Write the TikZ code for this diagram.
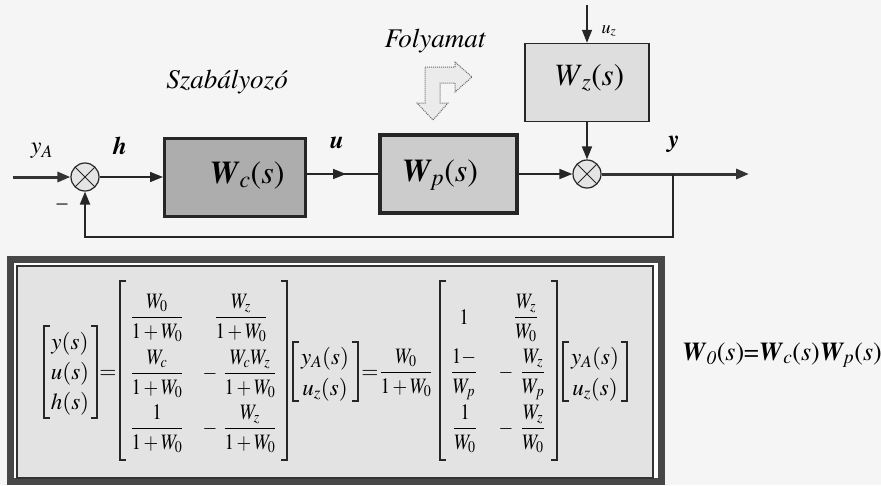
\documentclass[tikz,border=0pt]{standalone}
\usepackage{amsmath}
\usepackage{graphicx}
\usepackage[T1]{fontenc}
\usepackage{mathptmx}
\usetikzlibrary{arrows.meta,decorations.markings}
\newcommand{\fs}[1]{\fontsize{#1}{#1}\selectfont}
\newcommand{\bW}{\textbf{\textit{W}}}
\newcommand{\mq}[1]{\scalebox{0.86}[1]{$\displaystyle #1$}}
\begin{document}
\begin{tikzpicture}[x=1pt,y=-1pt,
  >={Triangle[length=13pt,width=10pt]},
  ln/.style={line width=1.5pt, draw=black!85},
  thk/.style={line width=3pt, draw=black!80},
  sumn/.style={circle, draw=black!85, line width=1.2pt, fill=black!10, minimum size=28pt, inner sep=0pt,
    path picture={\draw[line width=1pt,black!85] (path picture bounding box.north west)--(path picture bounding box.south east)
      (path picture bounding box.north east)--(path picture bounding box.south west);}},
  brk/.style={line width=1.3pt, draw=black!85},
  eq/.style={font=\fs{22}, inner sep=0pt, anchor=base},
  eqv/.style={font=\fs{23}, inner sep=0pt, anchor=base},
  lbl/.style={inner sep=0pt},
  midarrow/.style={postaction={decorate},decoration={markings,mark=at position 0.55 with {\arrow{Triangle[length=13pt,width=10pt]}}}},
]
\useasboundingbox (0,0) rectangle (881,485);
\fill[black!4] (0,0) rectangle (881,485);

% ---- block diagram ----
\node[sumn] (s1) at (85,177) {};
\node[sumn] (s2) at (587,174) {};
\node[draw=black!85, line width=3pt, fill=black!32, minimum width=141pt, minimum height=78pt, inner sep=0pt] (Wc) at (235,177) {};
\node[draw=black!85, line width=4pt, fill=black!20, minimum width=137pt, minimum height=78pt, inner sep=0pt] (Wp) at (448.5,174) {};
\node[draw=black!85, line width=1.5pt, fill=black!13, minimum width=124pt, minimum height=78pt, inner sep=0pt] (Wz) at (587,82.5) {};

\node[lbl, font=\fs{32}] (WcT) at (247,175) {\bW\textsubscript{\textit{c}}(\textit{s})};
\node[lbl, font=\fs{32}] (WpT) at (440,175) {\bW\textsubscript{\textit{p}}(\textit{s})};
\node[lbl, font=\fs{31}] (WzT) at (589,78) {\textit{W}\textsubscript{\textit{z}}(\textit{s})};

\coordinate (in) at (13,177);
\coordinate (uzin) at (587,5);
\coordinate (yout) at (749,174);
\coordinate (tap) at (673,174);
\coordinate (fbc) at (673,237);

\draw[thk,->] (in) -- (s1);
\draw[ln,->] (s1) -- (Wc);
\draw[ln,midarrow] (Wc.east |- Wp.west) -- (Wp.west);
\draw[ln,->] (Wp) -- (s2);
\draw[ln,->] (uzin) -- (Wz);
\draw[ln,->] (Wz) -- (s2);
\draw[thk,->] (s2) -- (yout);
\draw[line width=2pt, draw=black!85,->] (tap) -- (fbc) -| (s1);

\node[lbl, font=\fs{24}] (lyA) at (42,151) {\textit{y}\textsubscript{\textit{A}}};
\node[lbl, font=\fs{25}\bfseries\itshape] (lh) at (120,146) {h};
\node[lbl, font=\fs{25}\bfseries\itshape] (lu) at (337,143) {u};
\node[lbl, font=\fs{25}\bfseries\itshape] (lyo) at (674,144) {y};
\node[lbl, font=\fs{22}] (lminus) at (62,207) {--};
\node[lbl, font=\fs{18}] (luz) at (609,31) {\textit{u}\textsubscript{\textit{z}}};

\node[lbl, font=\fs{27}\itshape] (szab) at (227,82) {Szab\'alyoz\'o};
\node[lbl, font=\fs{27}\itshape] (foly) at (435,41) {Folyamat};

% bent hollow arrow
\filldraw[fill=black!8, draw=black!60, line width=1pt, dash pattern=on 1pt off 1pt]
  (425,67) -- (455,67) -- (455,62) -- (472,77) -- (455,92) -- (455,83) -- (440,83) -- (440,103)
  -- (448,103) -- (433,120) -- (417,103) -- (425,103) -- cycle;

% ---- equation box ----
\fill[white] (7,256) rectangle (665,485);
\fill[black!11] (17,266) rectangle (653,478);
\draw[line width=7pt, draw=black!72] (10.5,259.5) rectangle (661.5,481.5);
\draw[line width=1.2pt, draw=black!80] (17,266) rectangle (653,478);

% left vector
\node[eqv] (ly) at (70,349) {$y(s)$};
\node[eqv] (lu2) at (70,379) {$u(s)$};
\node[eqv] (lh2) at (70,409) {$h(s)$};
\draw[brk] (50,326) -- (44,326) -- (44,418) -- (50,418);
\draw[brk] (91,326) -- (97,326) -- (97,418) -- (91,418);
\node[eq] (e1) at (108,378) {$=$};

% matrix 1
\draw[brk] (126,281) -- (120,281) -- (120,460) -- (126,460);
\draw[brk] (281,281) -- (287,281) -- (287,460) -- (281,460);
\node[eq] (a11) at (157,323) {\mq{\frac{W_0}{1+W_0}}};
\node[eq] (a12) at (241,323) {\mq{\frac{W_z}{1+W_0}}};
\node[eq] (a21) at (157,379) {\mq{\frac{W_c}{1+W_0}}};
\node[eq] (a22m) at (210,379) {\mq{-}};
\node[eq] (a22) at (250,379) {\mq{\frac{W_cW_z}{1+W_0}}};
\node[eq] (a31) at (157,434) {\mq{\frac{1}{1+W_0}}};
\node[eq] (a32m) at (210,434) {\mq{-}};
\node[eq] (a32) at (250,434) {\mq{\frac{W_z}{1+W_0}}};

% vector yA uz (1)
\draw[brk] (299,342) -- (293,342) -- (293,401) -- (299,401);
\draw[brk] (352,342) -- (358,342) -- (358,401) -- (352,401);
\node[eqv] (v1a) at (325,364) {$y_A(s)$};
\node[eqv] (v1b) at (325,395) {$u_z(s)$};

\node[eq] (e2) at (370,378) {$=$};
\node[eq] (fr) at (406,378) {\mq{\frac{W_0}{1+W_0}}};

% matrix 2
\draw[brk] (446,281) -- (440,281) -- (440,460) -- (446,460);
\draw[brk] (551,281) -- (557,281) -- (557,460) -- (551,460);
\node[eq] (b11) at (464,324) {\mq{1}};
\node[eq] (b12) at (526,323) {\mq{\frac{W_z}{W_0}}};
\node[eq] (b21) at (464,378) {\mq{\frac{1-}{W_p}}};
\node[eq] (b22m) at (506,378) {\mq{-}};
\node[eq] (b22) at (533,378) {\mq{\frac{W_z}{W_p}}};
\node[eq] (b31) at (465,434) {\mq{\frac{1}{W_0}}};
\node[eq] (b32m) at (506,434) {\mq{-}};
\node[eq] (b32) at (533,434) {\mq{\frac{W_z}{W_0}}};

% vector yA uz (2)
\draw[brk] (569,342) -- (563,342) -- (563,401) -- (569,401);
\draw[brk] (621,342) -- (627,342) -- (627,401) -- (621,401);
\node[eqv] (v2a) at (595,364) {$y_A(s)$};
\node[eqv] (v2b) at (595,395) {$u_z(s)$};

% W0 definition
\node[lbl, font=\fs{26}] (w0def) at (782,355) {\bW\textsubscript{\textit{0}}(\textit{s})=\bW\textsubscript{\textit{c}}(\textit{s})\bW\textsubscript{\textit{p}}(\textit{s})};
\end{tikzpicture}
\end{document}
